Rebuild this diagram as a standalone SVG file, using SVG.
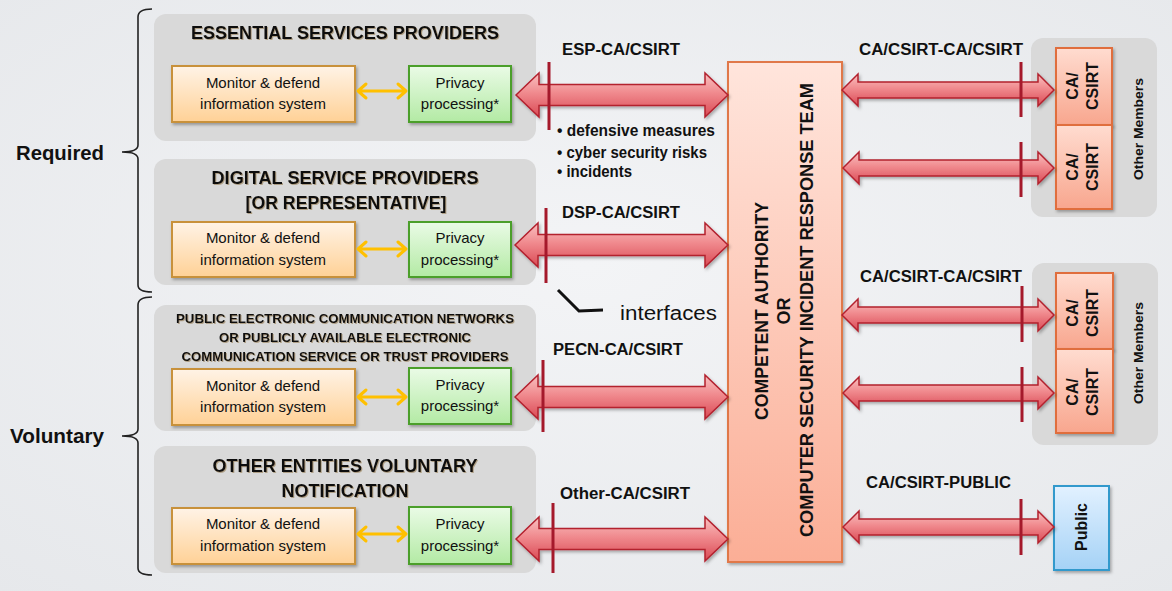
<svg xmlns="http://www.w3.org/2000/svg" width="1172" height="591" viewBox="0 0 1172 591">
<defs>
<radialGradient id="bg" cx="0.5" cy="0.45" r="0.75">
<stop offset="0" stop-color="#F3F4F6"/><stop offset="1" stop-color="#E6E8EB"/>
</radialGradient>
<linearGradient id="gOrange" x1="0" y1="0" x2="0" y2="1">
<stop offset="0" stop-color="#FFF3E6"/><stop offset="1" stop-color="#FFD196"/>
</linearGradient>
<linearGradient id="gGreen" x1="0" y1="0" x2="0" y2="1">
<stop offset="0" stop-color="#EAFBE6"/><stop offset="1" stop-color="#B3EAA4"/>
</linearGradient>
<linearGradient id="gCenter" x1="0" y1="0" x2="0" y2="1">
<stop offset="0" stop-color="#FFE5DC"/><stop offset="1" stop-color="#FBAE96"/>
</linearGradient>
<linearGradient id="gCa" x1="0" y1="0" x2="0" y2="1">
<stop offset="0" stop-color="#FFDCD0"/><stop offset="1" stop-color="#F8A68E"/>
</linearGradient>
<linearGradient id="gBlue" x1="0" y1="0" x2="0" y2="1">
<stop offset="0" stop-color="#E2F1FF"/><stop offset="1" stop-color="#A5D2F6"/>
</linearGradient>
<linearGradient id="gRed" x1="0" y1="0" x2="0" y2="1">
<stop offset="0" stop-color="#F9C1C1"/><stop offset="0.45" stop-color="#F08A8E"/><stop offset="1" stop-color="#DA4A55"/>
</linearGradient>
<filter id="sh" x="-10%" y="-10%" width="130%" height="130%">
<feDropShadow dx="1.5" dy="2" stdDeviation="1.5" flood-color="#000" flood-opacity="0.3"/>
</filter>
<filter id="tsh" x="-5%" y="-20%" width="110%" height="150%">
<feDropShadow dx="1" dy="1" stdDeviation="0.6" flood-color="#7a5a20" flood-opacity="0.45"/>
</filter>
</defs>
<style>
.grp{fill:#D9D9D9;}
.ob{fill:url(#gOrange);stroke:#C8913A;stroke-width:2;}
.gb{fill:url(#gGreen);stroke:#4B9F2B;stroke-width:2;}
.bt{font-family:"Liberation Sans",Arial,sans-serif;font-size:15px;fill:#111;text-anchor:middle;}
.tt{font-family:"Liberation Sans",Arial,sans-serif;font-weight:bold;fill:#111;text-anchor:middle;}
.lb{font-family:"Liberation Sans",Arial,sans-serif;font-weight:bold;font-size:16px;fill:#111;}
.arr{fill:url(#gRed);stroke:#B3202E;stroke-width:1.5;stroke-linejoin:miter;}
.tick{stroke:#A5192B;stroke-width:3;}
.ya{fill:none;stroke:#FFC000;stroke-width:3;stroke-linecap:round;stroke-linejoin:round;}
.brace{fill:none;stroke:#222;stroke-width:1.6;}
.side{font-family:"Liberation Sans",Arial,sans-serif;font-weight:bold;font-size:20px;fill:#111;}
</style>
<rect width="1172" height="591" fill="url(#bg)"/>

<g id="braces">
<path class="brace" d="M152,9 Q138,9 138,17 L138,145 Q138,152 122,152 Q138,152 138,159 L138,285 Q138,292 152,292"/>
<path class="brace" d="M152,297 Q138,297 138,305 L138,429 Q138,436 122,436 Q138,436 138,443 L138,568 Q138,575 152,575"/>
<text class="side" x="16" y="160" textLength="88" lengthAdjust="spacingAndGlyphs">Required</text>
<text class="side" x="10" y="443" textLength="94" lengthAdjust="spacingAndGlyphs">Voluntary</text>
</g>

<g id="esp">
<rect class="grp" x="154" y="14" width="382" height="127" rx="12"/>
<text class="tt" x="345" y="39" font-size="19" textLength="308" lengthAdjust="spacingAndGlyphs" filter="url(#tsh)">ESSENTIAL SERVICES PROVIDERS</text>
<rect class="ob" x="172" y="66" width="183" height="56" filter="url(#sh)"/>
<text class="bt" x="263" y="88">Monitor &amp; defend</text>
<text class="bt" x="263" y="109">information system</text>
<rect class="gb" x="409" y="66" width="102" height="56" filter="url(#sh)"/>
<text class="bt" x="460" y="88">Privacy</text>
<text class="bt" x="460" y="109">processing*</text>
<path class="ya" d="M358,91 H406 M366,84 L358,91 L366,98 M398,84 L406,91 L398,98"/>
</g>

<g id="dsp">
<rect class="grp" x="154" y="159" width="382" height="126" rx="12"/>
<text class="tt" x="345" y="184" font-size="19" textLength="267" lengthAdjust="spacingAndGlyphs" filter="url(#tsh)">DIGITAL SERVICE PROVIDERS</text>
<text class="tt" x="346" y="209" font-size="19" textLength="201" lengthAdjust="spacingAndGlyphs" filter="url(#tsh)">[OR REPRESENTATIVE]</text>
<rect class="ob" x="172" y="222" width="183" height="55" filter="url(#sh)"/>
<text class="bt" x="263" y="243">Monitor &amp; defend</text>
<text class="bt" x="263" y="265">information system</text>
<rect class="gb" x="409" y="222" width="102" height="55" filter="url(#sh)"/>
<text class="bt" x="460" y="243">Privacy</text>
<text class="bt" x="460" y="265">processing*</text>
<path class="ya" d="M358,249 H406 M366,242 L358,249 L366,256 M398,242 L406,249 L398,256"/>
</g>

<g id="pecn">
<rect class="grp" x="154" y="305" width="382" height="126" rx="12"/>
<text class="tt" x="345" y="323" font-size="13" textLength="338" lengthAdjust="spacingAndGlyphs" filter="url(#tsh)">PUBLIC ELECTRONIC COMMUNICATION NETWORKS</text>
<text class="tt" x="345" y="342" font-size="13" textLength="252" lengthAdjust="spacingAndGlyphs" filter="url(#tsh)">OR PUBLICLY AVAILABLE ELECTRONIC</text>
<text class="tt" x="345" y="361" font-size="13" textLength="327" lengthAdjust="spacingAndGlyphs" filter="url(#tsh)">COMMUNICATION SERVICE OR TRUST PROVIDERS</text>
<rect class="ob" x="172" y="369" width="183" height="56" filter="url(#sh)"/>
<text class="bt" x="263" y="391">Monitor &amp; defend</text>
<text class="bt" x="263" y="412">information system</text>
<rect class="gb" x="409" y="368" width="102" height="56" filter="url(#sh)"/>
<text class="bt" x="460" y="390">Privacy</text>
<text class="bt" x="460" y="411">processing*</text>
<path class="ya" d="M358,397 H406 M366,390 L358,397 L366,404 M398,390 L406,397 L398,404"/>
</g>

<g id="other">
<rect class="grp" x="154" y="446" width="382" height="127" rx="12"/>
<text class="tt" x="345" y="472" font-size="19" textLength="265" lengthAdjust="spacingAndGlyphs" filter="url(#tsh)">OTHER ENTITIES VOLUNTARY</text>
<text class="tt" x="345" y="497" font-size="19" textLength="127" lengthAdjust="spacingAndGlyphs" filter="url(#tsh)">NOTIFICATION</text>
<rect class="ob" x="172" y="508" width="183" height="56" filter="url(#sh)"/>
<text class="bt" x="263" y="529">Monitor &amp; defend</text>
<text class="bt" x="263" y="551">information system</text>
<rect class="gb" x="409" y="507" width="102" height="57" filter="url(#sh)"/>
<text class="bt" x="460" y="529">Privacy</text>
<text class="bt" x="460" y="551">processing*</text>
<path class="ya" d="M358,534 H406 M366,527 L358,534 L366,541 M398,527 L406,534 L398,541"/>
</g>

<g id="authority">
<rect x="728" y="62" width="114" height="500" fill="url(#gCenter)" stroke="#E07848" stroke-width="2" filter="url(#sh)"/>
<g class="tt" font-size="18">
<text transform="translate(768,311) rotate(-90)" textLength="218" lengthAdjust="spacingAndGlyphs">COMPETENT AUTHORITY</text>
<text transform="translate(790,311) rotate(-90)">OR</text>
<text transform="translate(813,310) rotate(-90)" textLength="454" lengthAdjust="spacingAndGlyphs">COMPUTER SECURITY INCIDENT RESPONSE TEAM</text>
</g>
</g>

<g id="members1">
<rect class="grp" x="1031" y="38" width="126" height="179" rx="12"/>
<rect x="1056" y="48" width="56" height="77" fill="url(#gCa)" stroke="#E06E3E" stroke-width="2" filter="url(#sh)"/>
<rect x="1056" y="125" width="56" height="84" fill="url(#gCa)" stroke="#E06E3E" stroke-width="2" filter="url(#sh)"/>
<g class="tt" font-size="16">
<text transform="translate(1078,86) rotate(-90)">CA/</text>
<text transform="translate(1098,86) rotate(-90)">CSIRT</text>
<text transform="translate(1078,167) rotate(-90)">CA/</text>
<text transform="translate(1098,167) rotate(-90)">CSIRT</text>
<text transform="translate(1143,129) rotate(-90)" font-size="13" textLength="102" lengthAdjust="spacingAndGlyphs">Other Members</text>
</g>
</g>

<g id="members2">
<rect class="grp" x="1032" y="263" width="126" height="182" rx="12"/>
<rect x="1056" y="273" width="57" height="76" fill="url(#gCa)" stroke="#E06E3E" stroke-width="2" filter="url(#sh)"/>
<rect x="1056" y="349" width="57" height="84" fill="url(#gCa)" stroke="#E06E3E" stroke-width="2" filter="url(#sh)"/>
<g class="tt" font-size="16">
<text transform="translate(1078,313) rotate(-90)">CA/</text>
<text transform="translate(1098,313) rotate(-90)">CSIRT</text>
<text transform="translate(1078,392) rotate(-90)">CA/</text>
<text transform="translate(1098,392) rotate(-90)">CSIRT</text>
<text transform="translate(1143,353) rotate(-90)" font-size="13" textLength="102" lengthAdjust="spacingAndGlyphs">Other Members</text>
</g>
</g>

<g id="public">
<rect x="1054" y="486" width="55" height="84" fill="url(#gBlue)" stroke="#3399CC" stroke-width="2" filter="url(#sh)"/>
<text class="tt" font-size="16" transform="translate(1087,527) rotate(-90)">Public</text>
</g>

<g id="connectors">
<g filter="url(#sh)">
<path class="arr" d="M516,95 L539,73 L539,84.5 L705,84.5 L705,73 L728,95 L705,117 L705,105.5 L539,105.5 L539,117 Z"/>
<path class="arr" d="M515,245 L538,223 L538,234.5 L705,234.5 L705,223 L728,245 L705,267 L705,255.5 L538,255.5 L538,267 Z"/>
<path class="arr" d="M515,397 L538,375 L538,386.5 L705,386.5 L705,375 L728,397 L705,419 L705,407.5 L538,407.5 L538,419 Z"/>
<path class="arr" d="M516,539 L539,517 L539,528.5 L705,528.5 L705,517 L728,539 L705,561 L705,549.5 L539,549.5 L539,561 Z"/>
<path class="arr" d="M842,90 L858,74 L858,82 L1038,82 L1038,74 L1054,90 L1038,106 L1038,98 L858,98 L858,106 Z"/>
<path class="arr" d="M843,168 L859,152 L859,160 L1038,160 L1038,152 L1054,168 L1038,184 L1038,176 L859,176 L859,184 Z"/>
<path class="arr" d="M842,315 L858,299 L858,307 L1038,307 L1038,299 L1054,315 L1038,331 L1038,323 L858,323 L858,331 Z"/>
<path class="arr" d="M843,393 L859,377 L859,385 L1038,385 L1038,377 L1054,393 L1038,409 L1038,401 L859,401 L859,409 Z"/>
<path class="arr" d="M843,527 L859,511 L859,519 L1038,519 L1038,511 L1054,527 L1038,543 L1038,535 L859,535 L859,543 Z"/>
</g>
<line class="tick" x1="549" y1="62" x2="549" y2="130"/>
<line class="tick" x1="546" y1="208" x2="546" y2="283"/>
<line class="tick" x1="543" y1="360" x2="543" y2="432"/>
<line class="tick" x1="553" y1="503" x2="553" y2="573"/>
<line class="tick" x1="1021" y1="62" x2="1021" y2="117"/>
<line class="tick" x1="1021" y1="142" x2="1021" y2="197"/>
<line class="tick" x1="1022" y1="286" x2="1022" y2="342"/>
<line class="tick" x1="1022" y1="367" x2="1022" y2="422"/>
<line class="tick" x1="1021" y1="499" x2="1021" y2="555"/>
<polyline points="558,290 579,311 603,310" fill="none" stroke="#111" stroke-width="3"/>
</g>

<g id="labels">
<text class="lb" x="562" y="55" textLength="118" lengthAdjust="spacingAndGlyphs">ESP-CA/CSIRT</text>
<text class="lb" x="562" y="218" textLength="118" lengthAdjust="spacingAndGlyphs">DSP-CA/CSIRT</text>
<text class="lb" x="553" y="355" textLength="130" lengthAdjust="spacingAndGlyphs">PECN-CA/CSIRT</text>
<text class="lb" x="560" y="499" textLength="130" lengthAdjust="spacingAndGlyphs">Other-CA/CSIRT</text>
<text class="lb" x="859" y="55" textLength="164" lengthAdjust="spacingAndGlyphs">CA/CSIRT-CA/CSIRT</text>
<text class="lb" x="860" y="282" textLength="162" lengthAdjust="spacingAndGlyphs">CA/CSIRT-CA/CSIRT</text>
<text class="lb" x="866" y="488" textLength="145" lengthAdjust="spacingAndGlyphs">CA/CSIRT-PUBLIC</text>
<text class="lb" font-size="15" x="557" y="136" textLength="158" lengthAdjust="spacingAndGlyphs">• defensive measures</text>
<text class="lb" font-size="15" x="557" y="158" textLength="150" lengthAdjust="spacingAndGlyphs">• cyber security risks</text>
<text class="lb" font-size="15" x="557" y="177" textLength="75" lengthAdjust="spacingAndGlyphs">• incidents</text>
<text x="620" y="320" font-family="Liberation Sans, Arial, sans-serif" font-size="20" fill="#111" textLength="97" lengthAdjust="spacingAndGlyphs">interfaces</text>
</g>
</svg>
